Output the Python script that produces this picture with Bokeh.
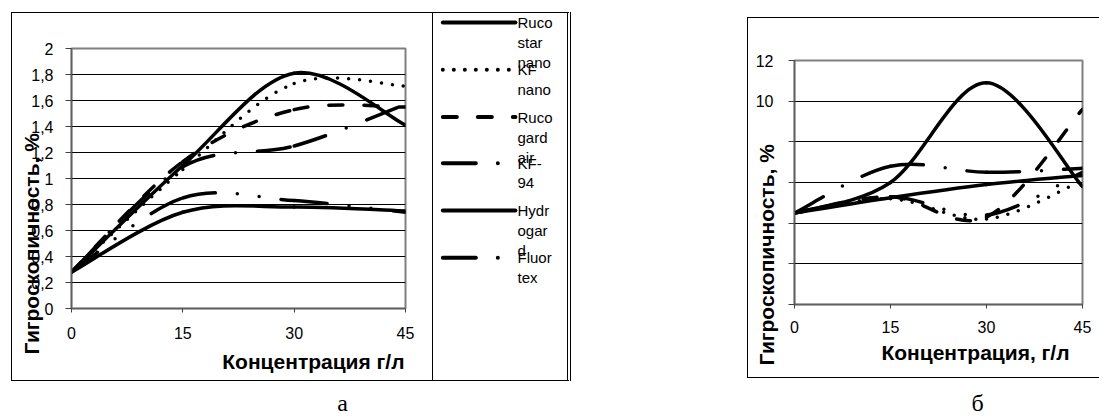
from bokeh.plotting import figure
from bokeh.layouts import row, column, Spacer
from bokeh.models import Range1d, FixedTicker, CustomJSTickFormatter, Title
from bokeh.embed import file_html
from bokeh.resources import INLINE
from bokeh.core.properties import value

# ---------------- data ----------------
conc = [0, 15, 30, 45]
series = ["Rucostar nano", "KF nano", "Rucogard air", "KF-94", "Hydrogard", "Fluortex"]
legend_lines = [["Ruco", "star", "nano"], ["KF", "nano"], ["Ruco", "gard", "air"],
                ["KF-", "94"], ["Hydr", "ogar", "d"], ["Fluor", "tex"]]

# chart "а"
a_rucostar = [0.28, 1.10, 1.81, 1.41]
a_kf_nano = [0.28, 1.07, 1.73, 1.71]
a_rucogard = [0.28, 1.13, 1.53, 1.55]
a_kf94 = [0.28, 1.09, 1.25, 1.57]
a_hydrogard = [0.28, 0.74, 0.78, 0.75]
a_fluortex = [0.28, 0.85, 0.83, 0.74]

# chart "б"
b_rucostar = [4.5, 6.0, 10.9, 5.8]
b_kf_nano = [4.5, 5.2, 4.2, 6.1]
b_rucogard = [4.5, 5.3, 4.3, 9.6]
b_kf94 = [4.5, 6.8, 6.5, 6.7]
b_hydrogard = [4.5, 5.25, 5.9, 6.35]
b_fluortex = [4.5, 5.3, 4.4, 6.5]

a_yticks = [0, 0.2, 0.4, 0.6, 0.8, 1.0, 1.2, 1.4, 1.6, 1.8, 2.0]
b_yticks = [0, 2, 4, 6, 8, 10, 12]
xticks = [0, 15, 30, 45]

x_title_a = "Концентрация г/л"
x_title_b = "Концентрация, г/л"
y_title = "Гигроскопичность, %"
captions = ["а", "б"]

# ---------------- styles ----------------
line_styles = [
    dict(line_dash="solid"),
    dict(line_dash="0 11"),
    dict(line_dash="14 21"),
    dict(line_dash="33 22 0 22"),
    dict(line_dash="solid"),
    dict(line_dash="33 22 0 22 0 22"),
]
FONT = "Liberation Sans"


def smooth(xs, ys):
    """Excel-like smoothed line: cubic bezier segments through the data points."""
    n = len(xs)
    out = dict(x0=[], y0=[], x1=[], y1=[], cx0=[], cy0=[], cx1=[], cy1=[])
    for i in range(n - 1):
        im, ip = max(i - 1, 0), min(i + 2, n - 1)
        out["x0"].append(xs[i]); out["y0"].append(ys[i])
        out["x1"].append(xs[i + 1]); out["y1"].append(ys[i + 1])
        out["cx0"].append(xs[i] + (xs[i + 1] - xs[im]) / 6)
        out["cy0"].append(ys[i] + (ys[i + 1] - ys[im]) / 6)
        out["cx1"].append(xs[i + 1] - (xs[ip] - xs[i]) / 6)
        out["cy1"].append(ys[i + 1] - (ys[ip] - ys[i]) / 6)
    return out


def style_axes(p, xtick_out, ytick_out, xstand, ystand):
    for ax in (p.xaxis[0], p.yaxis[0]):
        ax.axis_line_color = "#606060"
        ax.axis_line_width = 1.5
        ax.major_tick_line_color = "#404040"
        ax.major_tick_in = 0
        ax.minor_tick_line_color = None
        ax.major_label_text_font = FONT
        ax.major_label_text_font_size = "16px"
        ax.major_label_text_color = "black"
    p.xaxis[0].major_tick_out = xtick_out
    p.yaxis[0].major_tick_out = ytick_out
    p.xaxis[0].major_label_standoff = xstand
    p.yaxis[0].major_label_standoff = ystand
    p.xgrid.visible = False
    p.ygrid.grid_line_color = "black"
    p.ygrid.grid_line_width = 1
    p.outline_line_color = "#808080"
    p.outline_line_width = 2


def title(text, **kw):
    return Title(text=text, text_font=FONT, text_font_size="21px", text_font_style="bold",
                 text_color="black", **kw)


border_lbt = {"box-sizing": "content-box", "border-left": "1px solid black",
              "border-top": "1px solid black", "border-bottom": "1px solid black"}

# ---------------- chart а ----------------
pa = figure(width=420, height=367, x_range=Range1d(0, 45), y_range=Range1d(0, 2),
            output_backend="svg", toolbar_location=None, title_location=None,
            min_border_left=59, min_border_right=28, min_border_top=35, min_border_bottom=68,
            styles=border_lbt)
pa.xaxis.ticker = FixedTicker(ticks=xticks)
pa.yaxis.ticker = FixedTicker(ticks=a_yticks)
pa.ygrid.ticker = FixedTicker(ticks=a_yticks)
pa.yaxis.formatter = CustomJSTickFormatter(
    code="return (Math.round(tick*10)/10).toString().replace('.', ',');")
style_axes(pa, 4, 6, 14, 12)

for ys, st in zip([a_rucostar, a_kf_nano, a_rucogard, a_kf94, a_hydrogard, a_fluortex], line_styles):
    pa.bezier(**smooth(conc, ys), line_color="black", line_width=3.5, line_cap="round",
              line_join="round", **st)

pa.add_layout(title(x_title_a, align="right", offset=1, vertical_align="top", standoff=16), "below")
pa.add_layout(title(y_title, align="left", offset=-46, vertical_align="bottom", standoff=-29), "left")

# ---------------- legend box ----------------
pl = figure(width=134, height=367, x_range=Range1d(0, 134), y_range=Range1d(367, 0),
            x_axis_type=None, y_axis_type=None, min_border=0, output_backend="svg",
            toolbar_location=None, title_location=None,
            styles={"box-sizing": "content-box", "border": "1px solid black",
                    "border-right": "4px double black"})
pl.grid.visible = False
pl.outline_line_color = None
item_y = [9, 56, 103, 149, 196, 243]
for i, (lines, st) in enumerate(zip(legend_lines, line_styles)):
    pl.line(x=[9, 79], y=[item_y[i], item_y[i]], line_color="black", line_width=4,
            line_cap="round", **st)
    pl.text(x=[81] * len(lines), y=[item_y[i] + 20 * k for k in range(len(lines))], text=lines,
            text_font=value(FONT), text_font_size="15px", text_baseline="middle",
            text_color="black")

# ---------------- chart б ----------------
pb = figure(width=351, height=359, x_range=Range1d(0, 45), y_range=Range1d(0, 12),
            output_backend="svg", toolbar_location=None, title_location=None,
            min_border_left=46, min_border_right=18, min_border_top=42, min_border_bottom=75,
            styles=border_lbt)
pb.xaxis.ticker = FixedTicker(ticks=xticks)
pb.yaxis.ticker = FixedTicker(ticks=b_yticks)
pb.ygrid.ticker = FixedTicker(ticks=b_yticks)
pb.yaxis.major_label_overrides = {0: "", 2: "", 4: "", 6: "", 8: ""}
style_axes(pb, 4, 6, 12, 15)

for ys, st in zip([b_rucostar, b_kf_nano, b_rucogard, b_kf94, b_hydrogard, b_fluortex], line_styles):
    pb.bezier(**smooth(conc, ys), line_color="black", line_width=3.5, line_cap="round",
              line_join="round", **st)

pb.add_layout(title(x_title_b, align="right", offset=13, vertical_align="top", standoff=10), "below")
pb.add_layout(title(y_title, align="left", offset=-61, vertical_align="bottom", standoff=-50), "left")

# ---------------- captions ----------------
pc = figure(width=1099, height=38, x_range=Range1d(0, 1099), y_range=Range1d(0, 38),
            x_axis_type=None, y_axis_type=None, min_border=0, output_backend="svg",
            toolbar_location=None, title_location=None)
pc.grid.visible = False
pc.outline_line_color = None
pc.text(x=[342, 977], y=[17, 17], text=captions, text_font=value("Liberation Serif"),
        text_font_size="24px", text_align="center", text_baseline="middle",
        text_color="black")

layout = column(
    Spacer(height=12),
    row(Spacer(width=11), column(pa), column(Spacer(height=0), pl), Spacer(width=176),
        column(Spacer(height=5), pb)),
    pc,
)

open("out.html", "w").write(file_html(layout, INLINE))
